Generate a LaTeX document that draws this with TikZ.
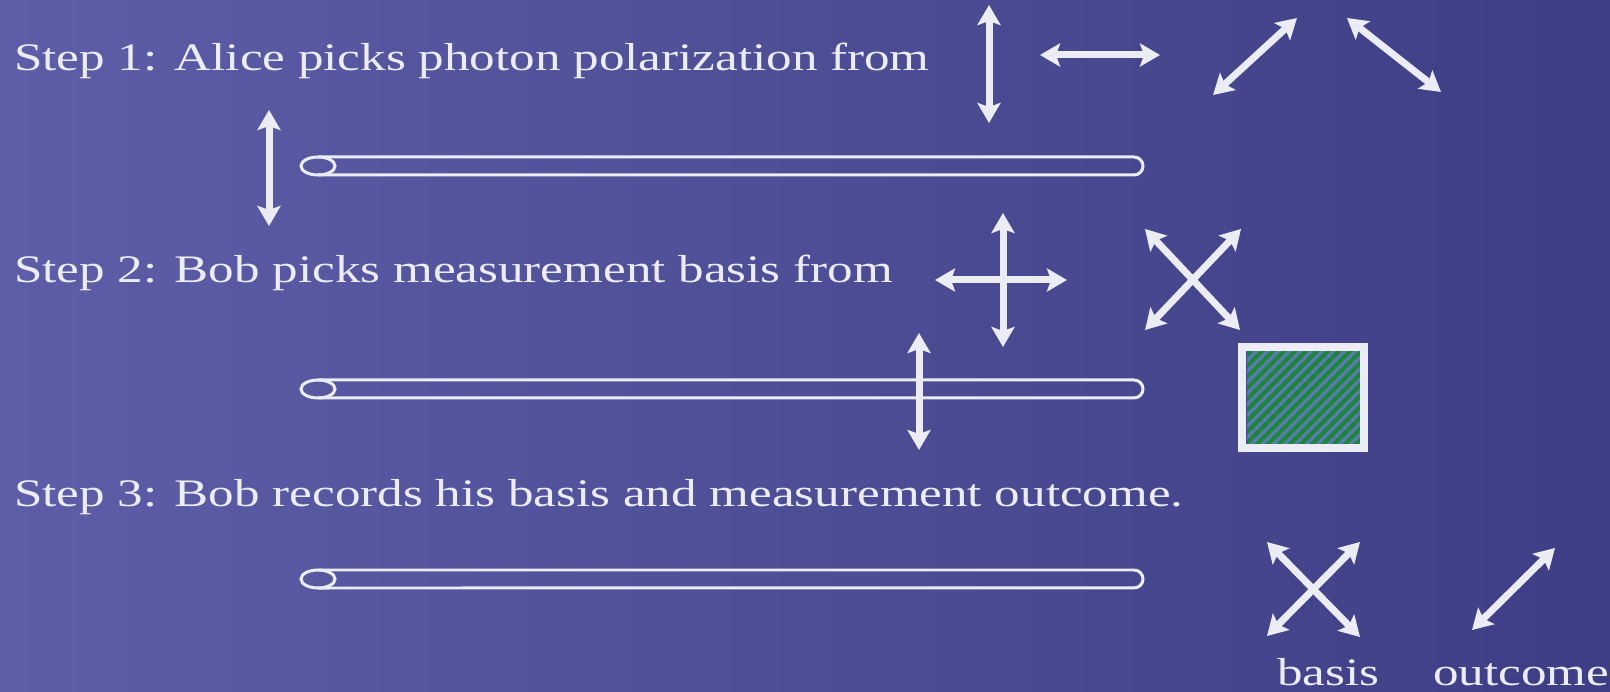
\documentclass[tikz,border=0pt]{standalone}
\usepackage{fontspec}
\setmainfont[FakeStretch=1.31]{Liberation Serif}
\usetikzlibrary{arrows.meta}

\definecolor{bgleft}{HTML}{5E5EA8}
\definecolor{bgright}{HTML}{3E3E86}
\definecolor{ink}{HTML}{ECECF4}
\definecolor{hatchgreen}{HTML}{1F843E}
\definecolor{hatchblue}{HTML}{5A7DB0}

\begin{document}
\begin{tikzpicture}[
    x=0.02cm, y=-0.02cm,
    steptext/.style={anchor=base west, inner sep=0pt, text=ink,
      font=\fontsize{22.2}{26}\selectfont},
    pol/.style={
      {Stealth[length=0.4cm,width=0.46cm,inset=0.08cm]}-{Stealth[length=0.4cm,width=0.46cm,inset=0.08cm]},
      line width=0.14cm, draw=ink
    },
    fiber/.style={draw=ink, line width=0.06cm},
    stripe/.style={draw=hatchgreen, line width=0.085cm}
  ]
    % Background
    \useasboundingbox (0,0) rectangle (1610,692);
    \shade[left color=bgleft, right color=bgright] (0,0) rectangle (1610,692);

    % Step texts
    \node[steptext] (step1) at (14,71)  {Step 1: Alice picks photon polarization from};
    \node[steptext] (step2) at (14,283) {Step 2: Bob picks measurement basis from};
    \node[steptext] (step3) at (14,506) {Step 3: Bob records his basis and measurement outcome.};

    % Polarizations (step 1)
    \draw[pol] (989,5) -- (989,123);
    \draw[pol] (1040,55) -- (1160,55);
    \draw[pol] (1213,95) -- (1297,18);
    \draw[pol] (1347,18) -- (1441,92);

    % Fiber 1 with photon
    \draw[fiber] (318,157) -- (1134,157) arc[start angle=90, end angle=-90, radius=0.18cm] -- (318,175);
    \draw[fiber] (318,166) ellipse [x radius=0.34cm, y radius=0.18cm];
    \draw[pol] (269,110) -- (269,226);

    % Bases (step 2)
    \draw[pol] (1003,213) -- (1003,347);
    \draw[pol] (935,280) -- (1067,280);
    \draw[pol] (1145,229) -- (1240,330);
    \draw[pol] (1145,330) -- (1241,229);

    % Fiber 2 with photon
    \draw[fiber] (318,380) -- (1134,380) arc[start angle=90, end angle=-90, radius=0.18cm] -- (318,398);
    \draw[fiber] (318,389) ellipse [x radius=0.34cm, y radius=0.18cm];
    \draw[pol] (919,333) -- (919,450);

    % Detector
    \fill[hatchblue] (1247,351) rectangle (1360,444);
    \begin{scope}
      \clip (1247,351) rectangle (1360,444);
      \foreach \c in {1130,1141,...,1372}
        \draw[stripe] (\c,450) -- ++(110,-110);
    \end{scope}
    \draw[draw=ink, line width=0.16cm] (1242,347) rectangle (1364,448);

    % Fiber 3
    \draw[fiber] (318,570) -- (1134,570) arc[start angle=90, end angle=-90, radius=0.18cm] -- (318,588);
    \draw[fiber] (318,579) ellipse [x radius=0.34cm, y radius=0.18cm];

    % Record (step 3)
    \draw[pol] (1267,542) -- (1360,637);
    \draw[pol] (1267,636) -- (1360,542);
    \draw[pol] (1472,630) -- (1555,548);
    \node[steptext] (basis)   at (1277,685) {basis};
    \node[steptext] (outcome) at (1433,685) {outcome};
  \end{tikzpicture}
\end{document}
